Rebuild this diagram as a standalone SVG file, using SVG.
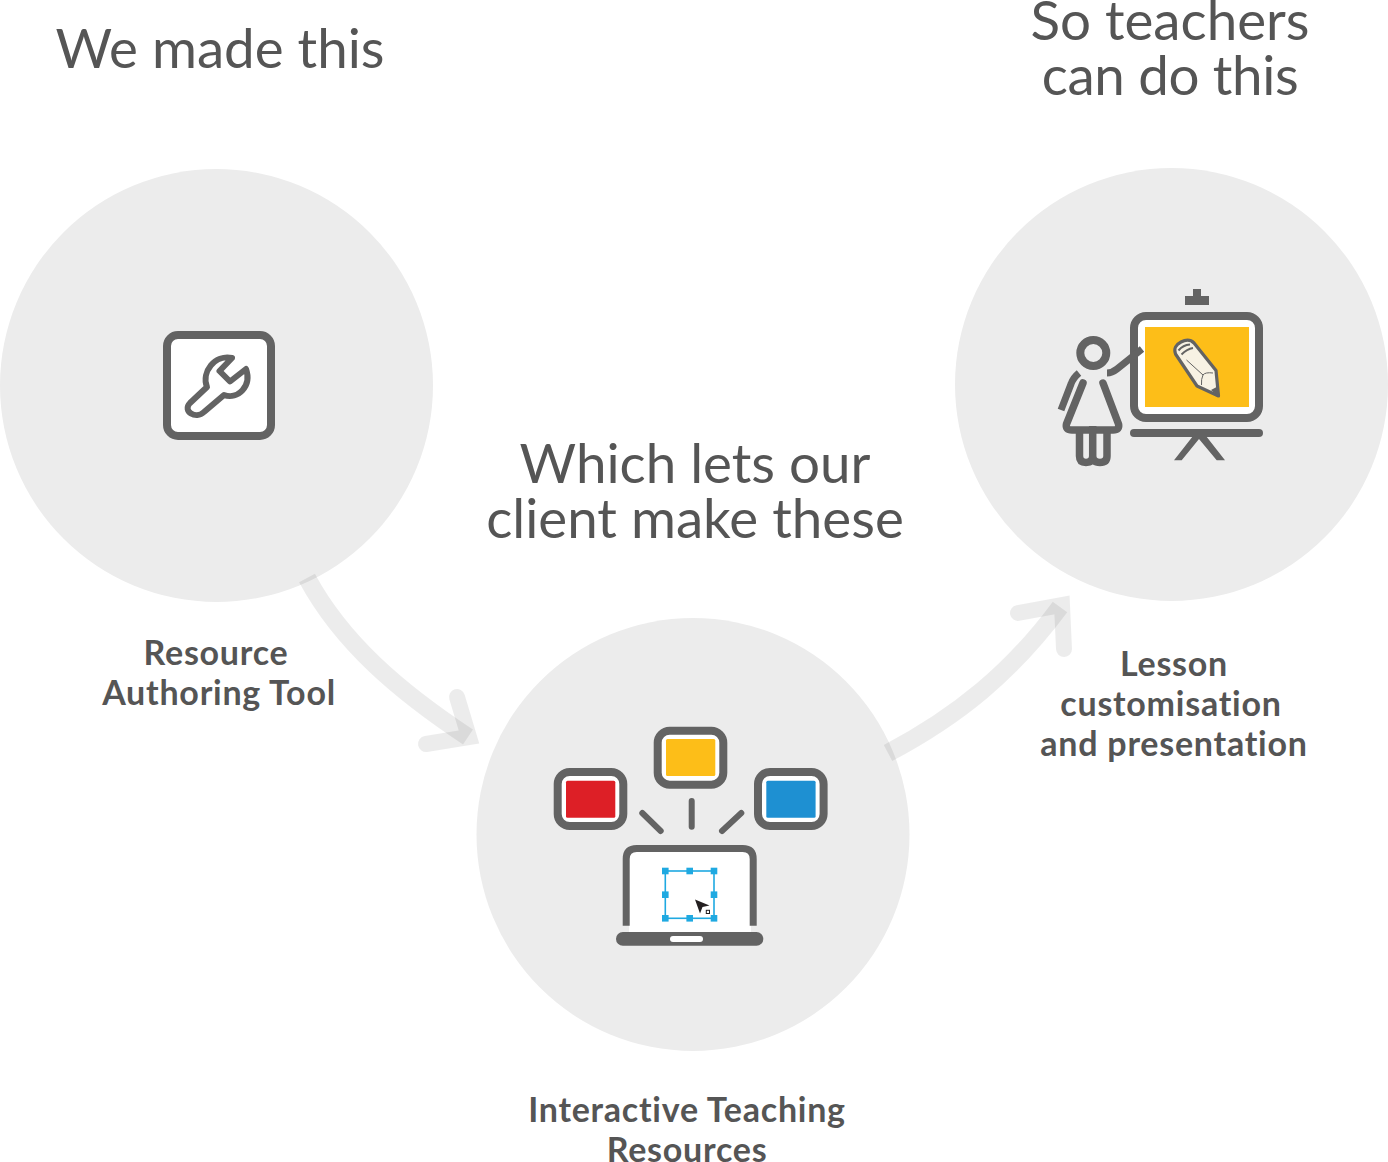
<svg xmlns="http://www.w3.org/2000/svg" width="1388" height="1162" viewBox="0 0 1388 1162">
<style>
.bg{fill:#ececec}
.title{font-family:Lato,"Liberation Sans",sans-serif;font-size:54.7px;font-weight:400;fill:#555;text-anchor:middle}
.label{font-family:Lato,"Liberation Sans",sans-serif;font-size:34px;font-weight:700;letter-spacing:.75px;font-variant-ligatures:none;fill:#555;text-anchor:middle}
.ln{fill:none;stroke:#636363;stroke-linecap:round;stroke-linejoin:round}
.frame{fill:#fff;stroke:#636363;stroke-width:8}
.dk{fill:#636363}
.h{fill:#1fa9e1}
.arrow{fill:none;stroke:#000;stroke-opacity:.075;stroke-width:16}
.shaft{stroke-width:18}
</style>
<rect width="1388" height="1162" fill="#fff"/>
<g id="node-authoring">
<circle class="bg" cx="216.5" cy="385.5" r="216.5"/>
<rect class="frame" x="167" y="335" width="104" height="101" rx="11"/>
<path class="ln" stroke-width="6" d="M190,403 L207,387 C201,372 215,354 232,358 L219.5,371 L230,381.5 L246,369 C252,386 238,400 224,395 L204,412 C196,420 182,411 190,403 Z"/>
<text class="title" x="220" y="67.5">We made this</text>
<text class="label" x="216" y="665">Resource</text>
<text class="label" x="219" y="705">Authoring Tool</text>
</g>
<g id="node-resources">
<circle class="bg" cx="693" cy="834.5" r="216.5"/>
<rect class="frame" x="557.7" y="772" width="65.6" height="54" rx="12"/>
<rect x="566" y="780.7" width="49.3" height="37" rx="1.5" fill="#dd1f26"/>
<rect class="frame" x="657.7" y="730.7" width="65.6" height="54" rx="12"/>
<rect x="666" y="739" width="49.3" height="37" rx="1.5" fill="#fdbe18"/>
<rect class="frame" x="758" y="772" width="65.6" height="54" rx="12"/>
<rect x="766.3" y="780.7" width="49.3" height="37" rx="1.5" fill="#1e90d2"/>
<path class="ln" stroke-width="6" d="M642.3,813 L660.7,831 M691.7,801 V826.7 M741.3,813 L722,831"/>
<path d="M629,932 V853 Q629,851 636,851 H744 Q751,851 751,853 V932 Z" fill="#fff"/>
<path d="M626.2,925.7 V859 Q626.2,848.5 636.7,848.5 H742.7 Q753.2,848.5 753.2,859 V925.7" fill="none" stroke="#636363" stroke-width="7"/>
<rect class="dk" x="616" y="932" width="147.3" height="13.7" rx="6.8"/>
<rect x="670" y="936" width="33" height="6" rx="3" fill="#fff"/>
<rect x="665.3" y="871" width="48.7" height="47.3" fill="none" stroke="#1fa9e1" stroke-width="1.6"/>
<g>
<rect class="h" x="662" y="867.7" width="6.6" height="6.6"/><rect class="h" x="686.4" y="867.7" width="6.6" height="6.6"/><rect class="h" x="710.7" y="867.7" width="6.6" height="6.6"/>
<rect class="h" x="662" y="891.4" width="6.6" height="6.6"/><rect class="h" x="710.7" y="891.4" width="6.6" height="6.6"/>
<rect class="h" x="662" y="915" width="6.6" height="6.6"/><rect class="h" x="686.4" y="915" width="6.6" height="6.6"/><rect class="h" x="710.7" y="915" width="6.6" height="6.6"/>
</g>
<polygon points="695,899.5 709.5,905.5 702.5,907 700,913.5" fill="#231f20"/>
<rect x="706.3" y="910.3" width="3.2" height="3.2" fill="#fff" stroke="#231f20" stroke-width="1"/>
<text class="title" x="695" y="483">Which lets our</text>
<text class="title" x="695" y="538">client make these</text>
<text class="label" x="687" y="1122">Interactive Teaching</text>
<text class="label" x="687" y="1162">Resources</text>
</g>
<g id="node-teachers">
<circle class="bg" cx="1171.5" cy="384.5" r="216.5"/>
<rect class="dk" x="1185" y="296" width="24" height="9"/>
<rect class="dk" x="1193" y="289" width="8" height="8"/>
<rect x="1134" y="316" width="125" height="102" rx="12" fill="#fff" stroke="#636363" stroke-width="8"/>
<rect x="1145" y="327" width="104" height="80" fill="#fdbe18"/>
<path class="ln" stroke-width="8" d="M1134,433 H1259"/>
<path class="dk" d="M1174,460.3 H1181.7 L1199,439 L1216.7,460.3 H1225 L1206,436 H1193 Z"/>
<circle cx="1093.3" cy="353" r="13" fill="none" stroke="#636363" stroke-width="8"/>
<path d="M1107,373 Q1112,373 1117,369 L1142,349" fill="none" stroke="#636363" stroke-width="7"/>
<path d="M1061,410 L1071,384 Q1073,378 1079,373" fill="none" stroke="#636363" stroke-width="7"/>
<path class="ln" stroke-width="7.5" d="M1083,383 L1066.5,424 Q1065,430 1072,430 H1113 Q1120,430 1118.5,424 L1103,383" stroke-linecap="butt"/>
<path d="M1079.5,430 V456 Q1079.5,462.5 1086,462.5 Q1092.7,462.5 1092.7,456 V426 M1092.7,456 Q1092.7,462.5 1100,462.5 Q1107,462.5 1107,456 V430" fill="none" stroke="#636363" stroke-width="7.5" stroke-linejoin="round"/>
<path d="M1175.5,354 C1173.5,349 1176,344.5 1181,342 C1186,339.5 1191,340 1194,343 L1216,370.5 L1218.5,396 L1197,386 Z" fill="#f7f2e4" stroke="#636363" stroke-width="3.2" stroke-linejoin="round"/>
<path d="M1178.5,350.5 Q1183,345 1190,344.5 M1181.5,354.5 Q1187,349 1193,348" fill="none" stroke="#636363" stroke-width="2"/>
<path d="M1186.5,360 L1203,375 M1213,373 Q1205,372 1203,375 Q1201,379 1201.5,385" fill="none" stroke="#636363" stroke-width="1"/>
<polygon points="1211,390 1219.5,397.5 1218.5,386" fill="#636363"/>
<text class="title" x="1170" y="40">So teachers</text>
<text class="title" x="1170" y="95" letter-spacing="-.35">can do this</text>
<text class="label" x="1174" y="676">Lesson</text>
<text class="label" x="1171" y="716">customisation</text>
<text class="label" x="1174" y="756">and presentation</text>
</g>
<g id="connectors">
<path class="arrow shaft" d="M307,578 C342,643 400,692 468,737"/>
<path class="arrow" stroke-linecap="round" stroke-miterlimit="10" d="M457,697 L469,737 L426,744"/>
<path class="arrow shaft" d="M888,753 C958,716 1012,672 1060,607"/>
<path class="arrow" stroke-linecap="round" stroke-miterlimit="10" d="M1018,613 L1062,605 L1064,649"/>
</g>
</svg>
